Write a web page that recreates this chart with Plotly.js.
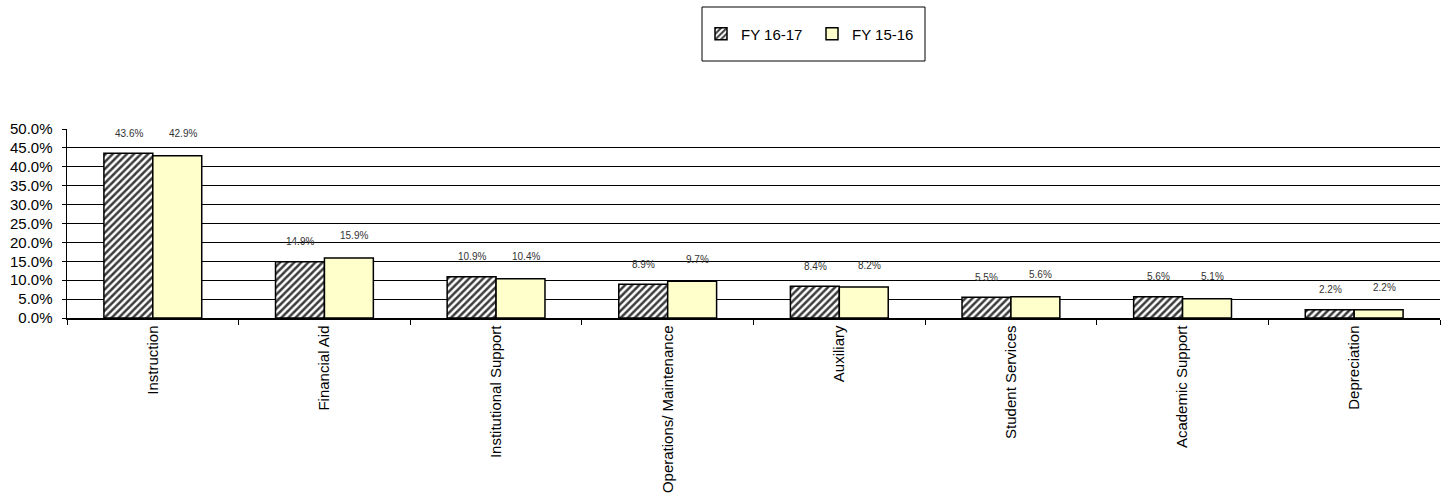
<!DOCTYPE html>
<html><head><meta charset="utf-8">
<script src="https://cdn.plot.ly/plotly-3.0.1.min.js"></script>
<style>html,body{margin:0;padding:0;background:#fff}#c{width:1450px;height:499px}</style>
</head><body><div id="c"></div>
<script>
var categories = ["Instruction","Financial Aid","Institutional Support","Operations/ Maintenance","Auxiliary","Student Services","Academic Support","Depreciation"];
var fy1617 = [43.6, 14.9, 10.9, 8.9, 8.4, 5.5, 5.6, 2.2];
var fy1516 = [42.9, 15.9, 10.4, 9.7, 8.2, 5.6, 5.1, 2.2];
var seriesNames = ["FY 16-17", "FY 15-16"];
var yTicks = [0,5,10,15,20,25,30,35,40,45,50];

var FONT = "'Liberation Sans Narrow', 'Arial Narrow', 'Liberation Sans', Arial, sans-serif";
var W = 1450, H = 499, ML = 67, MR = 10, MT = 129, MB = 181;
var pw = W - ML - MR, ph = H - MT - MB;

var traces = [
  {type:'bar', name:seriesNames[0], x:categories, y:fy1617,
   marker:{color:'#ffffff', line:{color:'#000', width:1.5},
     pattern:{shape:'/', fgcolor:'#3c3c3c', bgcolor:'#ffffff', size:5, solidity:0.5}},
   hoverinfo:'skip'},
  {type:'bar', name:seriesNames[1], x:categories, y:fy1516,
   marker:{color:'#FFFFCC', line:{color:'#000', width:1.5}},
   hoverinfo:'skip'}
];

var annotations = [];
categories.forEach(function(c, i){
  annotations.push({x:c, y:fy1617[i], xref:'x', yref:'y', text:fy1617[i].toFixed(1)+'%', showarrow:false,
    xshift:-24, yshift:20, font:{family:FONT, size:10, color:'#333'}});
  annotations.push({x:c, y:fy1516[i], xref:'x', yref:'y', text:fy1516[i].toFixed(1)+'%', showarrow:false,
    xshift:30, yshift:22, font:{family:FONT, size:10, color:'#333'}});
});

var layout = {
  width:W, height:H, margin:{l:ML, r:MR, t:MT, b:MB},
  paper_bgcolor:'#fff', plot_bgcolor:'#fff',
  barmode:'group', bargap:0.43, bargroupgap:0,
  showlegend:true,
  legend:{orientation:'h', x:(812-ML)/pw, xanchor:'center', y:1+(MT-34)/ph, yanchor:'middle',
    font:{family:FONT, size:15, color:'#000'}, bgcolor:'rgba(0,0,0,0)', borderwidth:0,
    itemwidth:30, entrywidth:66, traceorder:'normal'},
  shapes:[{type:'rect', xref:'paper', yref:'paper',
    x0:(702-ML)/pw, x1:(925-ML)/pw, y0:1+(MT-61)/ph, y1:1+(MT-7)/ph,
    line:{color:'#000', width:1}, fillcolor:'rgba(0,0,0,0)'}],
  xaxis:{type:'category', tickangle:-90, tickson:'boundaries', ticks:'outside', ticklen:5, tickcolor:'#000',
    showline:true, linecolor:'#000', linewidth:1.5, showgrid:false,
    tickfont:{family:FONT, size:15, color:'#000'}, automargin:false},
  yaxis:{range:[0,50], tickvals:yTicks, ticktext:yTicks.map(function(v){return v.toFixed(1)+'%';}),
    ticks:'outside', ticklen:4, tickcolor:'#000', showline:true, linecolor:'#000', linewidth:1.5,
    ticklabelstandoff:6,
    showgrid:true, gridcolor:'#000', gridwidth:1, zeroline:false,
    tickfont:{family:FONT, size:15, color:'#000'}, automargin:false},
  annotations:annotations
};
Plotly.newPlot('c', traces, layout, {displayModeBar:false, staticPlot:true});
</script></body></html>
